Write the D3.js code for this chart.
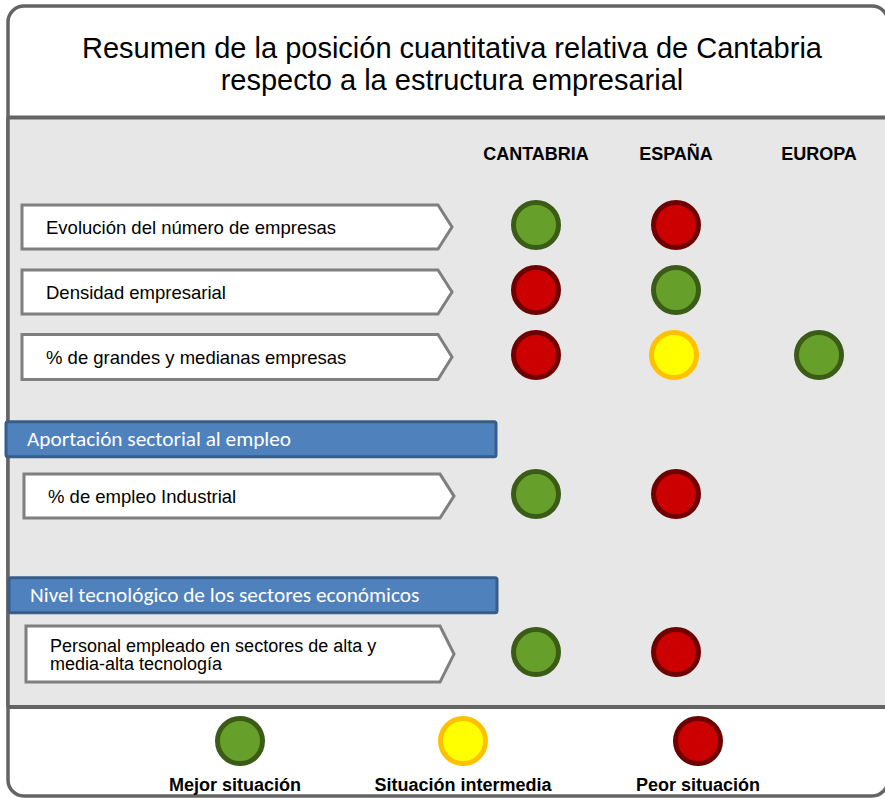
<!DOCTYPE html>
<html><head><meta charset="utf-8">
<script src="https://cdn.jsdelivr.net/npm/d3@7"></script>
<style>html,body{margin:0;padding:0;background:#fff;}svg{display:block;}</style>
</head><body>
<script>
// ---- data ----
const titleLines = ["Resumen de la posición cuantitativa relativa de Cantabria", "respecto a la estructura empresarial"];
const columns = ["CANTABRIA", "ESPAÑA", "EUROPA"];
const sections = ["Aportación sectorial al empleo", "Nivel tecnológico de los sectores económicos"];
const indicators = [
  ["Evolución del número de empresas"],
  ["Densidad empresarial"],
  ["% de grandes y medianas empresas"],
  ["% de empleo Industrial"],
  ["Personal empleado en sectores de alta y", "media-alta tecnología"]
];
const cantabria = ["mejor", "peor", "peor", "mejor", "mejor"];
const espana = ["peor", "mejor", "intermedia", "peor", "peor"];
const europa = [null, null, "mejor", null, null];
const legendKeys = ["mejor", "intermedia", "peor"];
const legendLabels = ["Mejor situación", "Situación intermedia", "Peor situación"];

// ---- layout ----
const W = 885, H = 798;
const svg = d3.select("body").append("svg").attr("width", W).attr("height", H);
const fillC = d3.scaleOrdinal().domain(legendKeys).range(["#66a02a", "#ffff00", "#cc0000"]);
const strokeC = d3.scaleOrdinal().domain(legendKeys).range(["#3a5c16", "#ffc000", "#6e0000"]);
const xCol = d3.scaleOrdinal().domain(columns).range([536, 676, 819]);
const rowSlots = [0, 1, 2, 4.14, 6.57];
const secSlots = [3.29, 5.69];
const y = d3.scaleLinear().domain([0, 1]).range([225, 290]);
const xLeg = d3.scaleOrdinal().domain(legendKeys).range([240, 463, 698]);
const FONT = "Liberation Sans, Arial, sans-serif";

// background frame
svg.append("rect").attr("x", 8).attr("y", 6).attr("width", 880).attr("height", 790)
  .attr("rx", 16).attr("fill", "#fff").attr("stroke", "#646464").attr("stroke-width", 3.5);
svg.append("rect").attr("x", 8).attr("y", 117).attr("width", 880).attr("height", 591)
  .attr("fill", "#e7e7e7");
svg.append("line").attr("x1", 8).attr("x2", 888).attr("y1", 117.5).attr("y2", 117.5)
  .attr("stroke", "#646464").attr("stroke-width", 4);
svg.append("line").attr("x1", 8).attr("x2", 888).attr("y1", 707).attr("y2", 707)
  .attr("stroke", "#646464").attr("stroke-width", 4);
svg.append("line").attr("x1", 8).attr("x2", 8).attr("y1", 117).attr("y2", 707)
  .attr("stroke", "#646464").attr("stroke-width", 3.5);

// title
svg.append("g").selectAll("text").data(titleLines).join("text")
  .attr("x", 452).attr("y", (d, i) => 58 + i * 32)
  .attr("text-anchor", "middle")
  .attr("font-family", FONT)
  .attr("font-size", 29).attr("fill", "#000").text(d => d);

// column headers
svg.append("g").selectAll("text").data(columns).join("text")
  .attr("x", d => xCol(d)).attr("y", 159.5).attr("text-anchor", "middle")
  .attr("font-family", FONT)
  .attr("font-weight", "bold").attr("font-size", 18).attr("fill", "#000").text(d => d);

// section headers
const secG = svg.append("g").selectAll("g").data(sections).join("g");
secG.append("rect")
  .attr("x", (d, i) => i === 0 ? 6 : 9).attr("y", (d, i) => y(secSlots[i]) - 17)
  .attr("width", (d, i) => i === 0 ? 490 : 488).attr("height", 35)
  .attr("rx", 2)
  .attr("fill", "#4f81bd").attr("stroke", "#385d8a").attr("stroke-width", 3);
secG.append("text")
  .attr("x", (d, i) => i === 0 ? 27 : 30).attr("y", (d, i) => y(secSlots[i]) + 7.5)
  .attr("font-family", "Carlito, Lato, 'Open Sans', sans-serif")
  .attr("font-size", 21.3).attr("fill", "#fff").text(d => d);

// indicator boxes (arrow shapes)
const boxLeft = [22, 22, 22, 24, 26];
const boxH = [44, 44, 45, 44, 56];
const rowG = svg.append("g").selectAll("g").data(indicators).join("g");
rowG.append("path")
  .attr("d", (d, i) => {
    const cy = y(rowSlots[i]) + 2, h = boxH[i], x0 = boxLeft[i];
    const x1 = 438 + (i >= 3 ? 2 : 0), tip = x1 + 14;
    return `M${x0},${cy - h / 2}L${x1},${cy - h / 2}L${tip},${cy}L${x1},${cy + h / 2}L${x0},${cy + h / 2}Z`;
  })
  .attr("fill", "#fff").attr("stroke", "#7f7f7f").attr("stroke-width", 3).attr("stroke-linejoin", "miter");
rowG.each(function (d, i) {
  const g = d3.select(this);
  const cy = y(rowSlots[i]) + 2;
  const multi = d.length > 1;
  const lh = 18;
  g.selectAll("text").data(d).join("text")
    .attr("x", boxLeft[i] + 24)
    .attr("y", (t, j) => cy + 6.5 + (j - (d.length - 1) / 2) * lh)
    .attr("font-family", FONT)
    .attr("font-size", multi ? 18 : 18.5).attr("fill", "#000").text(t => t);
});

// circles
const colData = [cantabria, espana, europa];
const pts = [];
colData.forEach((vals, c) => vals.forEach((v, r) => { if (v) pts.push({ col: columns[c], row: r, v }); }));
svg.append("g").selectAll("circle").data(pts).join("circle")
  .attr("cx", d => xCol(d.col) - (d.v === "intermedia" ? 2 : 0))
  .attr("cy", d => y(rowSlots[d.row]))
  .attr("r", 22.5)
  .attr("fill", d => fillC(d.v)).attr("stroke", d => strokeC(d.v)).attr("stroke-width", 5);

// legend
const legG = svg.append("g").selectAll("g").data(legendKeys).join("g");
legG.append("circle").attr("cx", d => xLeg(d)).attr("cy", 741).attr("r", 22.5)
  .attr("fill", d => fillC(d)).attr("stroke", d => strokeC(d)).attr("stroke-width", 5);
legG.append("text").attr("x", (d, i) => xLeg(d) - (i === 0 ? 5 : 0)).attr("y", 791)
  .attr("text-anchor", "middle")
  .attr("font-family", FONT)
  .attr("font-weight", "bold").attr("font-size", 18).attr("fill", "#000")
  .text((d, i) => legendLabels[i]);
</script>
</body></html>
